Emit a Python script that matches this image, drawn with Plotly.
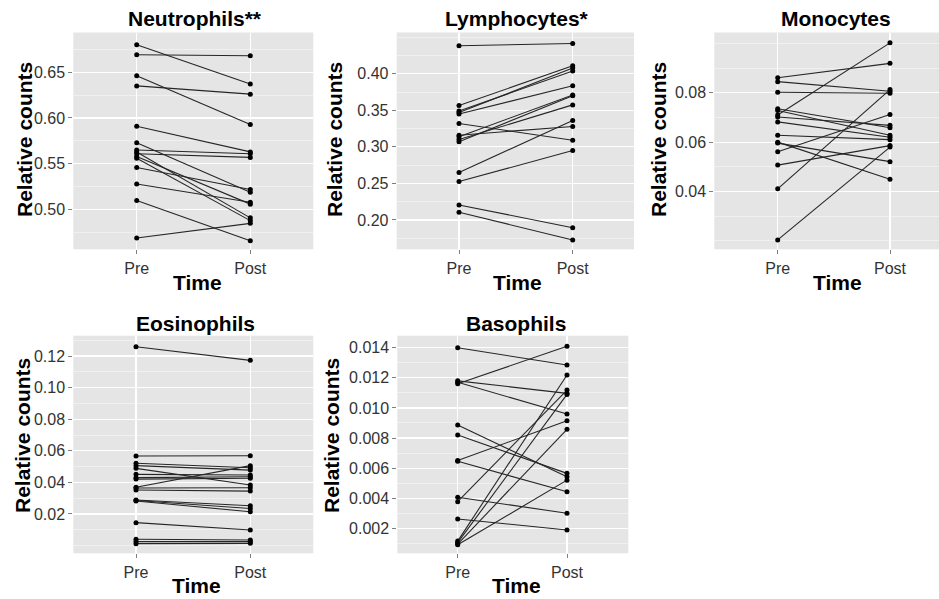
import plotly.graph_objects as go

W, H = 939, 599
times = ["Pre", "Post"]

# ---- data ----
neut_pre = [0.680, 0.669, 0.646, 0.635, 0.591, 0.573, 0.565, 0.563, 0.561, 0.558, 0.556, 0.546, 0.528, 0.510, 0.469]
neut_post = [0.637, 0.668, 0.593, 0.626, 0.563, 0.519, 0.561, 0.491, 0.557, 0.506, 0.488, 0.522, 0.508, 0.466, 0.485]

lymph_pre = [0.4384, 0.3566, 0.349, 0.347, 0.345, 0.332, 0.316, 0.314, 0.310, 0.307, 0.265, 0.2525, 0.2205, 0.2105]
lymph_post = [0.4415, 0.411, 0.404, 0.408, 0.3836, 0.309, 0.328, 0.371, 0.3575, 0.370, 0.336, 0.295, 0.1894, 0.1726]

mono_pre = [0.0861, 0.0845, 0.0802, 0.0735, 0.0728, 0.0710, 0.0702, 0.0682, 0.0628, 0.0600, 0.0596, 0.0561, 0.0507, 0.0411, 0.0204]
mono_post = [0.0919, 0.0806, 0.0798, 0.0658, 0.0628, 0.1002, 0.0668, 0.0620, 0.0610, 0.0450, 0.0521, 0.0712, 0.0586, 0.0813, 0.0580]

eos_pre = [0.1259, 0.0567, 0.0521, 0.0506, 0.0489, 0.0451, 0.0430, 0.0421, 0.0369, 0.0365, 0.0352, 0.0289, 0.0285, 0.0282, 0.0145, 0.0040, 0.0025, 0.0012]
eos_post = [0.1173, 0.0569, 0.0493, 0.0478, 0.0383, 0.0447, 0.0436, 0.0426, 0.0506, 0.0366, 0.0345, 0.0252, 0.0235, 0.0214, 0.0099, 0.0035, 0.0025, 0.0014]

baso_pre = [0.0140, 0.0118, 0.0117, 0.0116, 0.00886, 0.0082, 0.00650, 0.00645, 0.00406, 0.00377, 0.00262, 0.00115, 0.00105, 0.00095, 0.0009]
baso_post = [0.01285, 0.01097, 0.0096, 0.0141, 0.00543, 0.00565, 0.00915, 0.00443, 0.0030, 0.01119, 0.00189, 0.01219, 0.0109, 0.00858, 0.0052]

neut_ticks = [0.50, 0.55, 0.60, 0.65]
lymph_ticks = [0.20, 0.25, 0.30, 0.35, 0.40]
mono_ticks = [0.04, 0.06, 0.08]
eos_ticks = [0.02, 0.04, 0.06, 0.08, 0.10, 0.12]
baso_ticks = [0.002, 0.004, 0.006, 0.008, 0.010, 0.012, 0.014]

neut_minor = [0.475, 0.525, 0.575, 0.625, 0.675]
lymph_minor = [0.175, 0.225, 0.275, 0.325, 0.375, 0.425, 0.45]
mono_minor = [0.02, 0.03, 0.05, 0.07, 0.09, 0.10]
eos_minor = [0.0, 0.01, 0.03, 0.05, 0.07, 0.09, 0.11, 0.13]
baso_minor = [0.001, 0.003, 0.005, 0.007, 0.009, 0.011, 0.013]

FONT = "Liberation Sans, Arial, Helvetica, sans-serif"

panels = [
    dict(title="Neutrophils**", pre=neut_pre, post=neut_post, box=(73.3, 313.3, 32.5, 249.3),
         pre_px=136.7, post_px=250.3, yr=[0.4567, 0.6933], ticks=neut_ticks, minor=neut_minor, fmt=".2f",
         tt=(195, 19), xt=(197, 282), yt=(25, 140)),
    dict(title="Lymphocytes*", pre=lymph_pre, post=lymph_post, box=(396.7, 634.0, 32.5, 249.3),
         pre_px=459.0, post_px=572.7, yr=[0.1598, 0.4566], ticks=lymph_ticks, minor=lymph_minor, fmt=".2f",
         tt=(517, 19), xt=(517, 282), yt=(335, 140)),
    dict(title="Monocytes", pre=mono_pre, post=mono_post, box=(714.3, 939.0, 32.5, 249.3),
         pre_px=777.7, post_px=890.0, yr=[0.0166, 0.1044], ticks=mono_ticks, minor=mono_minor, fmt=".2f",
         tt=(836, 19), xt=(837, 282), yt=(659, 140)),
    dict(title="Eosinophils", pre=eos_pre, post=eos_post, box=(73.3, 313.3, 335.7, 553.3),
         pre_px=136.0, post_px=250.3, yr=[-0.0049, 0.1329], ticks=eos_ticks, minor=eos_minor, fmt=".2f",
         tt=(195, 323), xt=(196, 585), yt=(22, 436)),
    dict(title="Basophils", pre=baso_pre, post=baso_post, box=(397.3, 628.3, 335.7, 553.3),
         pre_px=457.7, post_px=567.0, yr=[0.000338, 0.0148], ticks=baso_ticks, minor=baso_minor, fmt=".3f",
         tt=(516, 323), xt=(516, 585), yt=(331, 436)),
]

fig = go.Figure()
annotations = []
layout = {}
for i, p in enumerate(panels):
    sfx = "" if i == 0 else str(i + 1)
    for a, b in zip(p["pre"], p["post"]):
        fig.add_trace(go.Scatter(
            x=times, y=[a, b], mode="lines+markers",
            line=dict(color="#262626", width=1.1),
            marker=dict(color="#000000", size=5),
            xaxis="x" + sfx, yaxis="y" + sfx, showlegend=False, hoverinfo="skip"))
    x0, x1, yt0, yb0 = p["box"]
    unit = p["post_px"] - p["pre_px"]
    r0 = -(p["pre_px"] - x0) / unit
    r1 = 1 + (x1 - p["post_px"]) / unit
    layout["xaxis" + sfx] = dict(
        domain=[x0 / W, min(x1 / W, 1.0)], anchor="y" + sfx,
        type="category", categoryorder="array", categoryarray=times,
        range=[r0, r1], showgrid=True, gridcolor="#FFFFFF", gridwidth=1.2,
        ticks="outside", ticklen=4, tickcolor="#7F7F7F", tickwidth=1,
        tickfont=dict(family=FONT, size=16, color="#333333"),
        zeroline=False, showline=False, fixedrange=True)
    layout["yaxis" + sfx] = dict(
        domain=[1 - yb0 / H, 1 - yt0 / H], anchor="x" + sfx,
        range=p["yr"], tickmode="array", tickvals=p["ticks"], tickformat=p["fmt"],
        showgrid=True, gridcolor="#FFFFFF", gridwidth=1.2,
        minor=dict(tickmode="array", tickvals=p["minor"], showgrid=True,
                   gridcolor="#F2F2F2", gridwidth=0.8, ticks=""),
        ticks="outside", ticklen=4, tickcolor="#7F7F7F", tickwidth=1,
        tickfont=dict(family=FONT, size=16, color="#333333"),
        zeroline=False, showline=False, fixedrange=True)
    annotations.append(dict(
        text=p["title"], x=p["tt"][0] / W, y=1 - p["tt"][1] / H, xref="paper", yref="paper",
        xanchor="center", yanchor="middle", showarrow=False,
        font=dict(family=FONT, size=21, color="#000000", weight="bold")))
    annotations.append(dict(
        text="Time", x=p["xt"][0] / W, y=1 - p["xt"][1] / H, xref="paper", yref="paper",
        xanchor="center", yanchor="middle", showarrow=False,
        font=dict(family=FONT, size=21, color="#000000", weight="bold")))
    annotations.append(dict(
        text="Relative counts", x=p["yt"][0] / W, y=1 - p["yt"][1] / H, xref="paper", yref="paper",
        xanchor="center", yanchor="middle", showarrow=False, textangle=-90,
        font=dict(family=FONT, size=21, color="#000000", weight="bold")))

fig.update_layout(
    width=W, height=H, margin=dict(l=0, r=0, t=0, b=0),
    paper_bgcolor="#FFFFFF", plot_bgcolor="#E5E5E5", hovermode=False,
    annotations=annotations, **layout)

fig.write_html("out.html",
               config={"displayModeBar": False, "staticPlot": True},
               post_script="document.body.style.margin='0px';document.body.style.overflow='hidden';")
